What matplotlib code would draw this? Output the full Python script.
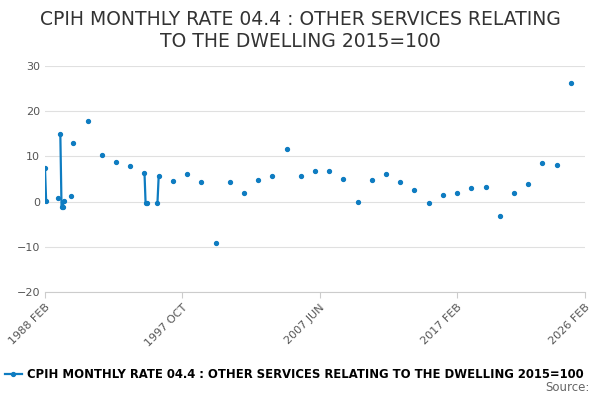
import matplotlib.pyplot as plt
import numpy as np
import pandas as pd

dates = ["1988-02", "1988-03", "1989-01", "1989-03", "1989-04", "1989-05", "1989-06", "1989-12",
         "1990-02", "1991-02", "1992-02", "1993-02", "1994-02", "1995-02", "1995-03", "1995-04",
         "1996-01", "1996-02", "1997-02", "1998-02", "1999-02", "2000-02", "2001-02", "2002-02",
         "2003-02", "2004-02", "2005-02", "2006-02", "2007-02", "2008-02", "2009-02", "2010-02",
         "2011-02", "2012-02", "2013-02", "2014-02", "2015-02", "2016-02", "2017-02", "2018-02",
         "2019-02", "2020-02", "2021-02", "2022-02", "2023-02", "2024-02", "2025-02"]
values = [7.4, 0.2, 0.7, 14.9, -1.3, -1.1, 0.2, 1.3,
          13.0, 17.8, 10.4, 8.7, 7.8, 6.4, -0.2, -0.2,
          -0.2, 5.6, 4.6, 6.1, 4.4, -9.1, 4.4, 1.8,
          4.7, 5.6, 11.6, 5.6, 6.7, 6.7, 4.9, 0.0,
          4.7, 6.0, 4.4, 2.6, -0.4, 1.5, 1.9, 2.9,
          3.3, -3.1, 1.8, 3.9, 8.5, 8.2, 26.2]
tick_labels = ["1988 FEB", "1997 OCT", "2007 JUN", "2017 FEB", "2026 FEB"]
title = "CPIH MONTHLY RATE 04.4 : OTHER SERVICES RELATING\nTO THE DWELLING 2015=100"
series_name = "CPIH MONTHLY RATE 04.4 : OTHER SERVICES RELATING TO THE DWELLING 2015=100"

s = pd.Series(values, index=pd.to_datetime(dates))
full = s.reindex(pd.date_range("1988-02-01", "2025-02-01", freq="MS"))

color = "#0e7cc1"
fig = plt.figure(figsize=(6, 4), dpi=100)
ax = fig.add_axes([0.075, 0.27, 0.9, 0.565])
ax.plot(full.index, full.values, color=color, lw=1.6, marker="o", ms=2.8,
        label=series_name)
ax.set_ylim(-20, 30)
ax.set_yticks([-20, -10, 0, 10, 20, 30])
ax.set_xlim(pd.Timestamp("1988-02-01"), pd.Timestamp("2026-02-01"))
ax.set_xticks(pd.to_datetime(["1988-02-01", "1997-10-01", "2007-06-01", "2017-02-01", "2026-02-01"]))
ax.set_xticklabels(tick_labels, rotation=45, ha="right", rotation_mode="anchor")
ax.grid(axis="y", color="#e0e0e0", lw=0.8)
ax.tick_params(colors="#555555", labelsize=8, length=0)
ax.tick_params(axis="x", length=4, color="#cccccc")
for sp in ["top", "right", "left"]:
    ax.spines[sp].set_visible(False)
ax.spines["bottom"].set_color("#cccccc")
ax.set_axisbelow(True)

fig.suptitle(title, fontsize=13.5, color="#333333", y=0.975)
fig.legend(loc="lower left", bbox_to_anchor=(0.0, 0.035), frameon=False,
           handlelength=1.5, handletextpad=0.4, borderaxespad=0,
           prop={"weight": "bold", "size": 8.4})
fig.text(0.983, 0.015, "Source:", ha="right", va="bottom", fontsize=8.5, color="#666666")
fig.savefig("out.png")
